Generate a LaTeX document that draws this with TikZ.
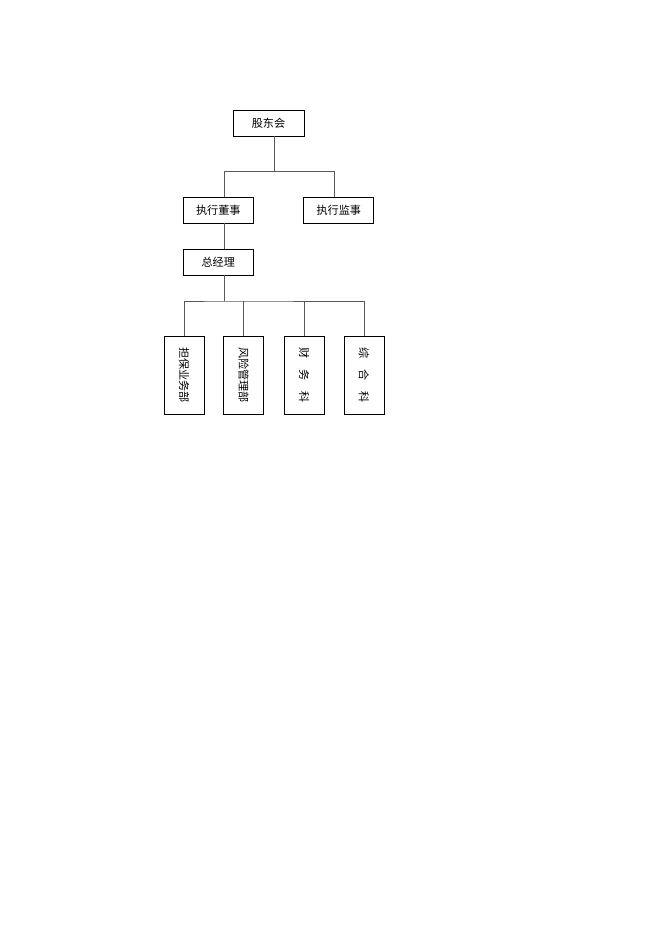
\documentclass[tikz,border=0pt]{standalone}
\usepackage{fontspec}
\newfontfamily\cjk{Noto Sans CJK SC}
\begin{document}
\begin{tikzpicture}[x=0.8988pt,y=-0.8988pt,
  hbox/.style={draw=black,line width=0.8pt,fill=white,inner sep=0pt,minimum width=62.5pt,minimum height=23.4pt,font=\cjk\fontsize{10pt}{12pt}\selectfont},
  vbox/.style={draw=black,line width=0.8pt,inner sep=0pt,minimum width=36pt,minimum height=70.1pt},
  vtext/.style={rotate=-90,inner sep=0pt,font=\cjk\fontsize{10pt}{12pt}\selectfont},
  conn/.style={draw=black!65,line width=0.8pt}]
\useasboundingbox (0,0) rectangle (662,936);
\fill[white] (0,0) rectangle (662,936);
\node[hbox,minimum width=63.8pt] (gd) at (268.5,123) {股东会};
\node[hbox] (zx) at (218.25,210) {执行董事};
\node[hbox,minimum width=62.9pt] (js) at (338.8,210) {执行监事};
\node[hbox] (zjl) at (218.25,262) {总经理};
\node[vbox] (b1) at (184,375) {};
\node[vbox] (b2) at (243.7,375) {};
\node[vbox] (b3) at (304,375) {};
\node[vbox] (b4) at (364,375) {};
\node[vtext] (t1) at (b1) {担保业务部};
\node[vtext] (t2) at (b2) {风险管理部};
\node[vtext] (t3) at (b3) {财\hspace{1em}务\hspace{1em}科};
\node[vtext] (t4) at (b4) {综\hspace{1em}合\hspace{1em}科};
\coordinate (j1) at (274,171);
\coordinate (c1) at (224,171);
\coordinate (c2) at (334,171);
\coordinate (j2) at (224,301);
\draw[conn] (gd.south -| j1) -- (j1);
\draw[conn] (zx.north -| c1) -- (c1) -- (c2) -- (js.north -| c2);
\draw[conn] (zx.south -| c1) -- (zjl.north -| c1);
\draw[conn] (zjl.south -| j2) -- (j2);
\draw[conn] (b1.north) |- (j2) -| (b4.north);
\draw[conn] (b2.north) -- (b2.north |- j2);
\draw[conn] (b3.north) -- (b3.north |- j2);
\end{tikzpicture}
\end{document}
